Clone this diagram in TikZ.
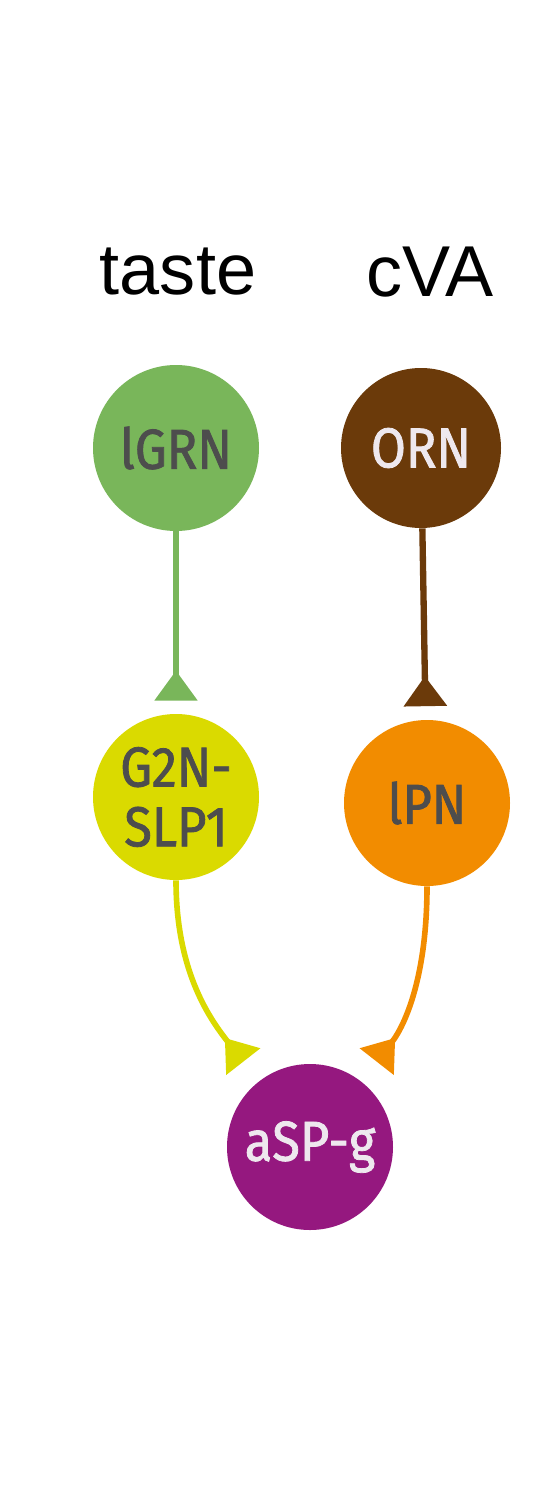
\documentclass[tikz,border=0pt]{standalone}
\usepackage{fontspec}
\setmainfont{Liberation Sans}
\newfontfamily\dinfont[FakeStretch=0.9, FakeBold=1.4]{Fira Sans}
\usetikzlibrary{arrows.meta}
\definecolor{tastegreen}{HTML}{79B65A}
\definecolor{ornbrown}{HTML}{6B3A0A}
\definecolor{slpyellow}{HTML}{DADA00}
\definecolor{lpnorange}{HTML}{F28C00}
\definecolor{aspurple}{HTML}{95187F}
\definecolor{labelgray}{HTML}{4D4D4D}
\definecolor{labelwhite}{HTML}{EEE8EE}
\begin{document}
\begin{tikzpicture}[
  neuron/.style={circle, minimum size=3.32cm, inner sep=0pt, align=center,
    font=\dinfont\fontsize{32}{36}\selectfont, text=labelgray},
  syn/.style={line width=3.2pt, -{Triangle[reversed, length=0.6cm, width=0.84cm]}},
  cue/.style={font=\fontsize{41}{41}\selectfont, text=black}]
\useasboundingbox (0,0) rectangle (11.16,-30);
\node[cue] (taste) at (3.56,-5.44) {taste};
\node[cue] (cva) at (8.6,-5.44) {cVA};
\node[neuron, fill=tastegreen] (lgrn) at (3.52,-8.96) {lGRN};
\node[neuron, fill=ornbrown, minimum size=3.2cm, text=labelwhite] (orn) at (8.42,-8.96) {ORN};
\node[neuron, fill=slpyellow] (g2n) at (3.52,-15.94) {G2N-\\[-2pt]SLP1};
\node[neuron, fill=lpnorange] (lpn) at (8.54,-16.06) {lPN};
\node[neuron, fill=aspurple, text=labelwhite] (asp) at (6.2,-22.94) {aSP-g};
\draw[syn, tastegreen, shorten >=0.26cm] (lgrn) -- (g2n);
\draw[syn, ornbrown, line width=3.6pt, shorten >=0.27cm] (orn) -- (lpn);
\draw[syn, slpyellow, shorten >=0.5cm] (g2n) to[out=-90, in=128, out looseness=1.1, in looseness=0.9] (asp);
\draw[syn, lpnorange, shorten >=0.5cm] (lpn) to[out=-90, in=52, out looseness=1.1, in looseness=0.9] (asp);
\end{tikzpicture}
\end{document}
